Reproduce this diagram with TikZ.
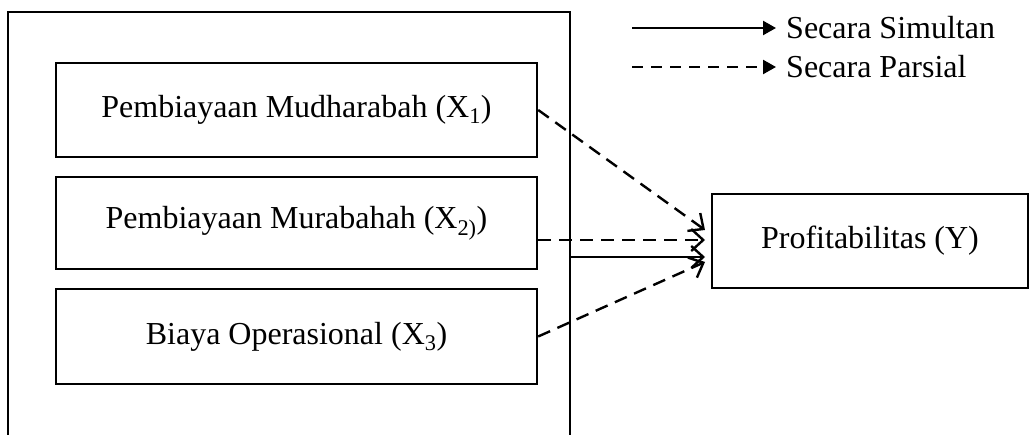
\documentclass[tikz,border=0pt]{standalone}
\usepackage{fontspec}
\setmainfont{Liberation Serif}
\usetikzlibrary{arrows.meta}
\begin{document}
\begin{tikzpicture}[x=1pt,y=-1pt,
  every node/.style={font=\fontsize{32}{38}\selectfont},
  varbox/.style={draw,line width=2.4pt,minimum width=481pt,inner sep=0pt},
  link/.style={line width=2.4pt,-{Straight Barb[length=12pt,width=22pt,line width=2.4pt]}},
  partial/.style={link,dash pattern=on 13pt off 8pt},
  keyline/.style={line width=2.4pt,-{Triangle[length=13pt,width=14pt]}}]
\useasboundingbox (0,0) rectangle (1031,435);
% open frame around the independent variables
\draw[line width=2.4pt] (8,437) -- (8,12) -- (570,12) -- (570,437);
\coordinate (frameR) at (570,257);
% independent variables
\node[varbox,minimum height=94pt] (x1) at (296.5,110) {Pembiayaan Mudharabah (X\textsubscript{1})};
\node[varbox,minimum height=92pt] (x2) at (296.5,223) {Pembiayaan Murabahah (X\textsubscript{2)})};
\node[varbox,minimum height=95pt] (x3) at (296.5,336.5) {Biaya Operasional (X\textsubscript{3})};
% dependent variable
\node[draw,line width=2.4pt,minimum width=316pt,minimum height=94pt,inner sep=0pt] (y) at (870,241) {Profitabilitas (Y)};
\coordinate (t1) at (705,230);
\coordinate (t2) at (705,240);
\coordinate (t3) at (705,262);
\coordinate (ts) at (705,257);
\draw[partial] (x1.east) -- (t1);
\draw[partial] (x2.east |- t2) -- (t2);
\draw[partial] (x3.east) -- (t3);
\draw[link] (frameR) -- (ts);
% legend
\coordinate (k1a) at (632,28);
\coordinate (k1b) at (776,28);
\coordinate (k2a) at (632,67);
\coordinate (k2b) at (776,67);
\draw[keyline] (k1a) -- (k1b);
\draw[keyline,dash pattern=on 11pt off 8pt] (k2a) -- (k2b);
\node[anchor=west,inner sep=0pt] (kS) at (786,28) {Secara Simultan};
\node[anchor=west,inner sep=0pt] (kP) at (786,67) {Secara Parsial};
\end{tikzpicture}
\end{document}
